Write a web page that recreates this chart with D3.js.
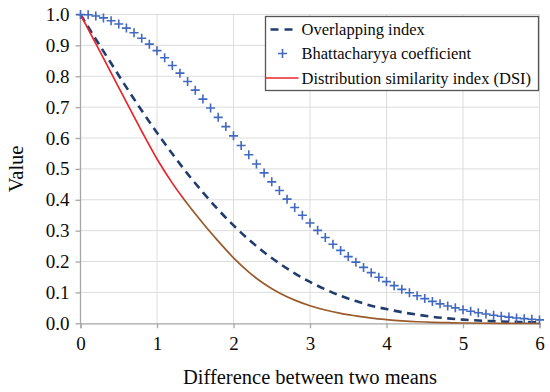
<!DOCTYPE html>
<html>
<head>
<meta charset="utf-8">
<script src="https://cdn.jsdelivr.net/npm/d3@7"></script>
<style>
  body { margin: 0; background: #fff; }
  text { font-family: "Liberation Serif", "Times New Roman", serif; fill: #0a0a0a; }
</style>
</head>
<body>
<div id="chart"></div>
<script>
// Data
var bcX = d3.range(61).map(i => +(i * 0.1).toFixed(1));
var bcValues = [1.000, 0.999, 0.995, 0.989, 0.980, 0.969, 0.956, 0.941, 0.923, 0.904,
                0.883, 0.860, 0.835, 0.810, 0.783, 0.755, 0.726, 0.697, 0.667, 0.637,
                0.607, 0.576, 0.546, 0.516, 0.487, 0.458, 0.430, 0.402, 0.375, 0.350,
                0.325, 0.301, 0.278, 0.256, 0.236, 0.216, 0.198, 0.181, 0.164, 0.149,
                0.135, 0.122, 0.110, 0.099, 0.089, 0.080, 0.071, 0.063, 0.056, 0.050,
                0.044, 0.039, 0.034, 0.030, 0.026, 0.023, 0.020, 0.017, 0.015, 0.013,
                0.011];

var ovlX = d3.range(31).map(i => +(i * 0.2).toFixed(1));
var ovlValues = [1.000, 0.920, 0.842, 0.764, 0.689, 0.617, 0.549, 0.484, 0.424, 0.368,
                 0.317, 0.271, 0.230, 0.194, 0.162, 0.134, 0.110, 0.089, 0.072, 0.057,
                 0.046, 0.036, 0.028, 0.021, 0.016, 0.012, 0.009, 0.007, 0.005, 0.004,
                 0.003];

var dsiX = [0, 0.2, 0.4, 0.6, 0.8, 1.0, 1.2, 1.4, 1.6, 1.8, 2.0, 2.2, 2.4, 2.6, 2.8, 3.0,
            3.2, 3.4, 3.6, 3.8, 4.0, 4.2, 4.4, 4.6, 4.8, 5.0, 5.5, 6.0];
var dsiValues = [1.000, 0.906, 0.811, 0.716, 0.622, 0.532, 0.454, 0.386, 0.324, 0.266,
                 0.212, 0.166, 0.128, 0.098, 0.075, 0.057, 0.043, 0.032, 0.024, 0.017,
                 0.012, 0.008, 0.005, 0.003, 0.002, 0.001, 0.000, 0.000];
// the DSI curve changes colour after this x
var dsiSplit = 1.34;

var xTicks = [0, 1, 2, 3, 4, 5, 6];
var yTicks = d3.range(11).map(i => +(i * 0.1).toFixed(1));

var legendItems = ["Overlapping index", "Bhattacharyya coefficient", "Distribution similarity index (DSI)"];

// Chart size
var svgWidth = 550, svgHeight = 392;
var margin = { top: 14.5, right: 10.5, bottom: 68.7, left: 80.5 };
var width = svgWidth - margin.left - margin.right;
var height = svgHeight - margin.top - margin.bottom;

var svg = d3.select("#chart").append("svg")
    .attr("width", svgWidth)
    .attr("height", svgHeight);

var chartGroup = svg.append("g")
    .attr("transform", `translate(${margin.left}, ${margin.top})`);

var xScale = d3.scaleLinear().domain([0, 6]).range([0, width]);
var yScale = d3.scaleLinear().domain([0, 1]).range([height, 0]);

// Gridlines
chartGroup.append("g").selectAll("line")
    .data(yTicks.slice(1)).enter().append("line")
    .attr("x1", 0).attr("x2", width)
    .attr("y1", d => yScale(d)).attr("y2", d => yScale(d))
    .attr("stroke", "#dcdcdc").attr("stroke-width", 1);

chartGroup.append("g").selectAll("line")
    .data(xTicks.slice(1)).enter().append("line")
    .attr("y1", 0).attr("y2", height)
    .attr("x1", d => xScale(d)).attr("x2", d => xScale(d))
    .attr("stroke", "#dcdcdc").attr("stroke-width", 1);

// Axes
var bottomAxis = d3.axisBottom(xScale).tickValues(xTicks).tickSize(5).tickPadding(8).tickFormat(d3.format("d"));
var leftAxis = d3.axisLeft(yScale).tickValues(yTicks).tickSize(5).tickPadding(6).tickFormat(d3.format(".1f"));

var xAxis = chartGroup.append("g")
    .attr("transform", `translate(0, ${height})`)
    .call(bottomAxis);
var yAxis = chartGroup.append("g").call(leftAxis);

[xAxis, yAxis].forEach(ax => {
    ax.attr("font-family", "'Liberation Serif', serif");
    ax.select(".domain").attr("stroke", "#a6a6a6").attr("stroke-width", 1.3);
    ax.selectAll(".tick line").attr("stroke", "#a6a6a6").attr("stroke-width", 1.3);
    ax.selectAll(".tick text")
        .style("font-family", "'Liberation Serif', serif")
        .style("font-size", "19px")
        .attr("fill", "#0a0a0a");
});
yAxis.select(".domain").attr("d", `M0,${height + 0.5}V0`);

// Lines
var ovlData = ovlX.map((x, i) => ({ x: x, y: ovlValues[i] }));
var dsiData = dsiX.map((x, i) => ({ x: x, y: dsiValues[i] }));
var bcData = bcX.map((x, i) => ({ x: x, y: bcValues[i] }));

var line = d3.line()
    .x(d => xScale(d.x))
    .y(d => yScale(d.y))
    .curve(d3.curveMonotoneX);

chartGroup.append("path")
    .datum(ovlData)
    .attr("d", line)
    .attr("fill", "none")
    .attr("stroke", "#203d6e")
    .attr("stroke-width", 2.6)
    .attr("stroke-dasharray", "8,5.5");

// DSI: red upper part, brown lower part (clip by x)
var defs = svg.append("defs");
defs.append("clipPath").attr("id", "clipLeft").append("rect")
    .attr("x", -5).attr("y", -5)
    .attr("width", xScale(dsiSplit) + 5).attr("height", height + 10);
defs.append("clipPath").attr("id", "clipRight").append("rect")
    .attr("x", xScale(dsiSplit)).attr("y", -5)
    .attr("width", width - xScale(dsiSplit) + 5).attr("height", height + 10);

chartGroup.append("path")
    .datum(dsiData)
    .attr("d", line)
    .attr("fill", "none")
    .attr("stroke", "#e8262c")
    .attr("stroke-width", 1.7)
    .attr("clip-path", "url(#clipLeft)");

chartGroup.append("path")
    .datum(dsiData)
    .attr("d", line)
    .attr("fill", "none")
    .attr("stroke", "#9a5a2a")
    .attr("stroke-width", 1.7)
    .attr("clip-path", "url(#clipRight)");

// Bhattacharyya markers
chartGroup.append("g").selectAll("path")
    .data(bcData).enter().append("path")
    .attr("transform", d => `translate(${xScale(d.x)}, ${yScale(d.y)})`)
    .attr("d", "M-4.5,0H4.5M0,-4.5V4.5")
    .attr("stroke", "#4169c0")
    .attr("stroke-width", 1.6)
    .attr("fill", "none");

// Axis titles
svg.append("text")
    .attr("x", margin.left + width / 2)
    .attr("y", 384)
    .attr("text-anchor", "middle")
    .style("font-size", "20.5px")
    .text("Difference between two means");

svg.append("text")
    .attr("transform", `translate(23, ${margin.top + height / 2}) rotate(-90)`)
    .attr("text-anchor", "middle")
    .style("font-size", "20.5px")
    .text("Value");

// Legend
var legend = svg.append("g").attr("transform", "translate(265.5, 16.5)");
legend.append("rect")
    .attr("width", 273).attr("height", 74)
    .attr("fill", "#fff")
    .attr("stroke", "#555")
    .attr("stroke-width", 1.3);

var rowY = [13, 37, 61.5];
legend.append("line")
    .attr("x1", 2).attr("x2", 33).attr("y1", rowY[0]).attr("y2", rowY[0])
    .attr("stroke", "#203d6e").attr("stroke-width", 2.6)
    .attr("stroke-dasharray", "8,6").attr("stroke-dashoffset", -3);
legend.append("path")
    .attr("transform", `translate(17, ${rowY[1]})`)
    .attr("d", "M-4.5,0H4.5M0,-4.5V4.5")
    .attr("stroke", "#4169c0").attr("stroke-width", 1.6);
legend.append("line")
    .attr("x1", 0).attr("x2", 33).attr("y1", rowY[2]).attr("y2", rowY[2])
    .attr("stroke", "#e8262c").attr("stroke-width", 1.7);

legend.selectAll("text.leg")
    .data(legendItems).enter().append("text")
    .attr("class", "leg")
    .attr("x", 36)
    .attr("y", (d, i) => rowY[i] + 5.5)
    .style("font-size", "16.5px")
    .text(d => d);
</script>
</body>
</html>
